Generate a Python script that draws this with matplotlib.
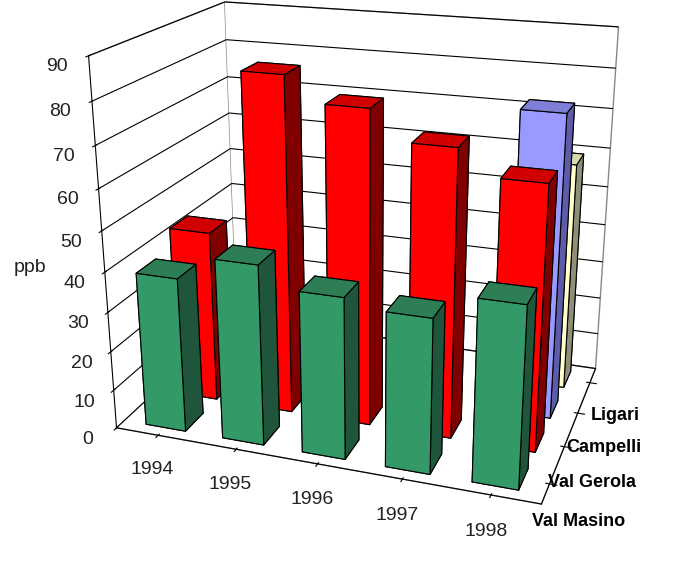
import numpy as np
import matplotlib
matplotlib.use('Agg')
import matplotlib.pyplot as plt
from mpl_toolkits.mplot3d import Axes3D  # noqa

plt.rcParams['font.family'] = ['Liberation Sans', 'DejaVu Sans']

# data (ppb)
years = ['1994', '1995', '1996', '1997', '1998']
sites = ['Val Masino', 'Val Gerola', 'Campelli', 'Ligari']
val_masino = [39, 45, 40, 38, 44]
val_gerola = [44, 84, 78, 71, 65]
campelli = [np.nan, np.nan, np.nan, np.nan, 76]
ligari = [np.nan, np.nan, np.nan, np.nan, 59]
z_ticks = [0, 10, 20, 30, 40, 50, 60, 70, 80, 90]

# front, top, side colours for each site
site_colors = [
    ('#339966', '#2d7d55', '#1f553b'),
    ('#ff0000', '#d00000', '#800000'),
    ('#9999ff', '#7f7fd8', '#5c5ca8'),
    ('#ffffcc', '#d8d8a8', '#8f8f78'),
]

fig = plt.figure(figsize=(6.98, 5.67), dpi=100)
ax = fig.add_axes([-0.005, 0.085, 1.04, 1.0], projection='3d')
ax.set_proj_type('persp', focal_length=0.42)
ax.view_init(elev=20, azim=-71)
ax.set_box_aspect((2.68, 1.8, 2.35), zoom=1.1)

bw, bd = 0.52, 0.55
xs = np.arange(len(years))
for row, vals in enumerate([val_masino, val_gerola, campelli, ligari]):
    vals = np.array(vals, dtype=float)
    ok = ~np.isnan(vals)
    n = ok.sum()
    front, top, side = site_colors[row]
    # face order: -z, +z, -y, +y, -x, +x
    cols = [side, top, front, front, side, side] * n
    ax.bar3d(xs[ok] - bw / 2, np.full(n, row) - bd / 2, np.zeros(n),
             bw, bd, vals[ok], color=cols, shade=False,
             edgecolor='black', linewidth=0.8)

ax.set_xlim(-0.55, len(years) - 0.45)
ax.set_ylim(-0.5, len(sites) - 0.5)
ax.set_zlim(0, 90)

ax.set_xticks(xs)
ax.set_xticklabels(years, fontsize=14, color='#222222')
ax.set_yticks(np.arange(len(sites)))
ax.set_yticklabels(sites, fontsize=13, fontweight='bold')
ax.tick_params(axis='y', pad=6)
ax.set_zticks(z_ticks)
ax.set_zticklabels([str(t) for t in z_ticks], fontsize=14, color='#222222')
ax.zaxis.set_ticks_position('lower')

for axis in (ax.xaxis, ax.yaxis, ax.zaxis):
    axis.set_pane_color((1, 1, 1, 1))
    axis.pane.set_edgecolor('#888888')
    axis.line.set_color('black')
    axis._axinfo['grid']['color'] = 'black'
    axis._axinfo['grid']['linewidth'] = 0.8
ax.xaxis._axinfo['grid']['linewidth'] = 0
ax.yaxis._axinfo['grid']['linewidth'] = 0

fig.text(0.02, 0.52, 'ppb', fontsize=14, color='#222222')

plt.savefig('out.png', dpi=100)
